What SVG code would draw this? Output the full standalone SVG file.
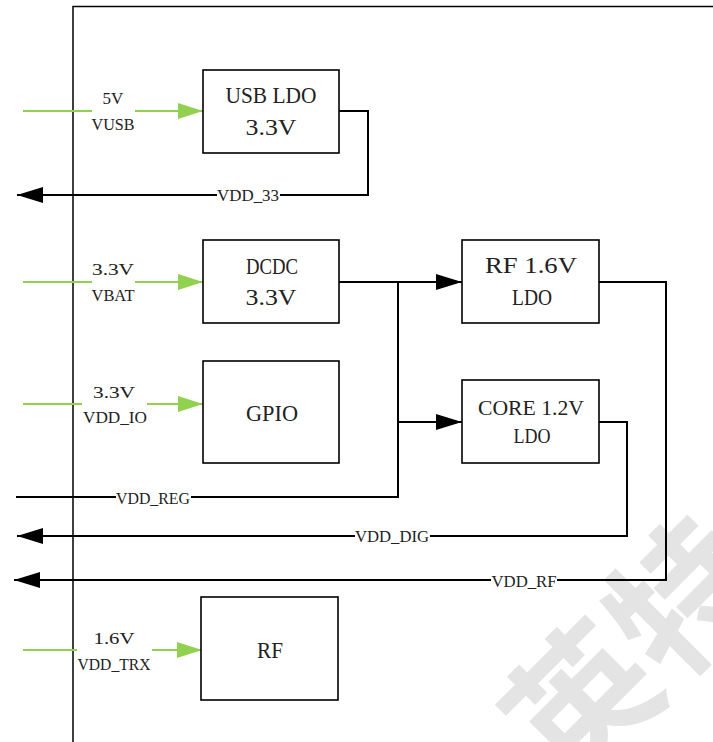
<svg xmlns="http://www.w3.org/2000/svg" width="713" height="742" viewBox="0 0 713 742">
<style>
.box{fill:#fff;stroke:#000;stroke-width:1.6}
.bl{font-family:"Liberation Serif",serif;font-size:23px;fill:#222;text-anchor:middle}
.sl{font-family:"Liberation Serif",serif;font-size:17px;fill:#222;text-anchor:middle}
.g{stroke:#92D050;stroke-width:2;fill:none}
.k{stroke:#000;stroke-width:2;fill:none}
.wm{font-family:"Noto Sans CJK SC",sans-serif;font-weight:bold;font-size:145px;fill:#e4e4e4}
</style>
<defs>
<marker id="ga" viewBox="0 0 25 16" refX="25" refY="8" markerWidth="25" markerHeight="16" markerUnits="userSpaceOnUse" orient="auto"><path d="M0,0L25,8L0,16Z" fill="#92D050"/></marker>
<marker id="ka" viewBox="0 0 26 16" refX="26" refY="8" markerWidth="26" markerHeight="16" markerUnits="userSpaceOnUse" orient="auto"><path d="M0,0L26,8L0,16Z" fill="#000"/></marker>
</defs>
<rect width="713" height="742" fill="#fff"/>
<g id="watermark" transform="translate(568,790) rotate(-45)"><text class="wm" x="0" y="0">英特</text></g>
<g id="frame"><path d="M73,742V6.5H713" stroke="#000" stroke-width="1.5" fill="none"/></g>
<g id="connectors">
<path class="g" d="M23,111H92"/><path class="g" d="M135,111H203" marker-end="url(#ga)"/>
<path class="g" d="M23,282H92"/><path class="g" d="M135,282H203" marker-end="url(#ga)"/>
<path class="g" d="M23,404H82"/><path class="g" d="M147,404H203" marker-end="url(#ga)"/>
<path class="g" d="M23,650H77"/><path class="g" d="M152,650H202" marker-end="url(#ga)"/>
<path class="k" d="M339,111H368V195H280"/><path class="k" d="M217,195H17" marker-end="url(#ka)"/>
<path class="k" d="M339,282H462" marker-end="url(#ka)"/>
<path class="k" d="M398,282V497H191"/><path class="k" d="M116,497H16"/>
<path class="k" d="M398,422H462" marker-end="url(#ka)"/>
<path class="k" d="M599,422H627V536H430"/><path class="k" d="M355,536H17" marker-end="url(#ka)"/>
<path class="k" d="M599,282H666V580H557"/><path class="k" d="M491,580H14" marker-end="url(#ka)"/>
<text class="sl" x="248" y="201" textLength="62" lengthAdjust="spacingAndGlyphs">VDD_33</text>
<text class="sl" x="153" y="504" textLength="74" lengthAdjust="spacingAndGlyphs">VDD_REG</text>
<text class="sl" x="392" y="542" textLength="74" lengthAdjust="spacingAndGlyphs">VDD_DIG</text>
<text class="sl" x="524" y="587" textLength="65" lengthAdjust="spacingAndGlyphs">VDD_RF</text>
<text class="sl" x="113" y="104">5V</text>
<text class="sl" x="113" y="130" textLength="43" lengthAdjust="spacingAndGlyphs">VUSB</text>
<text class="sl" x="113" y="275" textLength="42" lengthAdjust="spacingAndGlyphs">3.3V</text>
<text class="sl" x="113" y="301" textLength="43" lengthAdjust="spacingAndGlyphs">VBAT</text>
<text class="sl" x="114" y="398" textLength="42" lengthAdjust="spacingAndGlyphs">3.3V</text>
<text class="sl" x="115" y="423" textLength="64" lengthAdjust="spacingAndGlyphs">VDD_IO</text>
<text class="sl" x="114" y="644" textLength="41" lengthAdjust="spacingAndGlyphs">1.6V</text>
<text class="sl" x="114" y="670" textLength="73" lengthAdjust="spacingAndGlyphs">VDD_TRX</text>
</g>
<g id="usb_ldo"><rect class="box" x="203" y="70" width="136" height="83"/><text class="bl" x="271" y="103" textLength="91" lengthAdjust="spacingAndGlyphs">USB LDO</text><text class="bl" x="271" y="135" textLength="51" lengthAdjust="spacingAndGlyphs">3.3V</text></g>
<g id="dcdc"><rect class="box" x="203" y="240" width="136" height="83"/><text class="bl" x="272" y="274" textLength="52" lengthAdjust="spacingAndGlyphs">DCDC</text><text class="bl" x="271" y="305" textLength="51" lengthAdjust="spacingAndGlyphs">3.3V</text></g>
<g id="gpio"><rect class="box" x="203" y="361" width="136" height="102"/><text class="bl" x="272" y="421" textLength="52" lengthAdjust="spacingAndGlyphs">GPIO</text></g>
<g id="rf_ldo"><rect class="box" x="462" y="240" width="137" height="83"/><text class="bl" x="531" y="273" textLength="92" lengthAdjust="spacingAndGlyphs">RF 1.6V</text><text class="bl" x="532" y="305" textLength="40" lengthAdjust="spacingAndGlyphs">LDO</text></g>
<g id="core_ldo"><rect class="box" x="462" y="380" width="137" height="83"/><text class="sl" x="531" y="415" style="font-size:21px" textLength="106" lengthAdjust="spacingAndGlyphs">CORE 1.2V</text><text class="bl" x="532" y="443" style="font-size:21px" textLength="37" lengthAdjust="spacingAndGlyphs">LDO</text></g>
<g id="rf"><rect class="box" x="201" y="597" width="137" height="103"/><text class="bl" x="270" y="658" textLength="26" lengthAdjust="spacingAndGlyphs">RF</text></g>
</svg>
